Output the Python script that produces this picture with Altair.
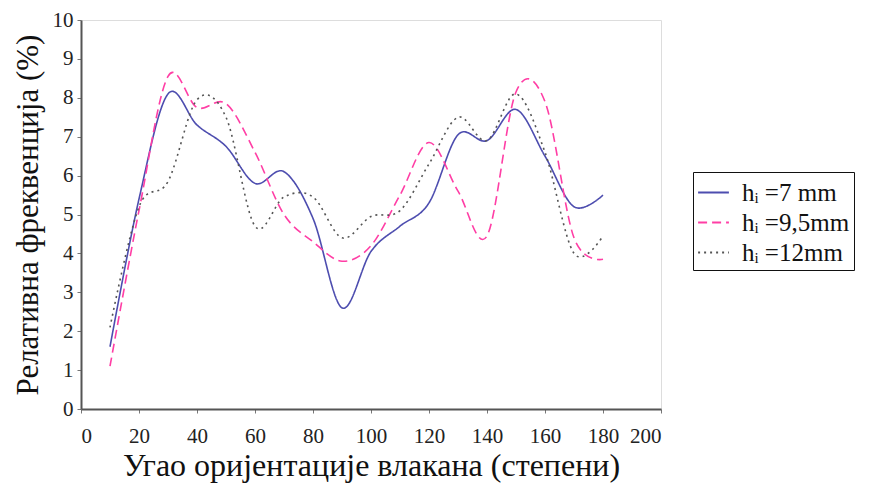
import altair as alt
import pandas as pd

angles = [10, 20, 30, 40, 50, 60, 70, 80, 90, 100, 110, 120, 130, 140, 150, 160, 170, 180]
h7 = [1.6, 5.4, 8.1, 7.3, 6.75, 5.8, 6.1, 4.9, 2.6, 4.05, 4.7, 5.3, 7.05, 6.9, 7.7, 6.5, 5.2, 5.5]
h95 = [1.1, 5.1, 8.55, 7.75, 7.85, 6.6, 5.0, 4.3, 3.8, 4.2, 5.5, 6.85, 5.6, 4.45, 8.15, 7.9, 4.4, 3.85]
h12 = [2.1, 5.2, 5.85, 7.95, 7.5, 4.7, 5.45, 5.45, 4.4, 4.95, 5.1, 6.3, 7.5, 6.9, 8.1, 6.6, 4.0, 4.45]
series_names = ["hᵢ =7 mm", "hᵢ =9,5mm", "hᵢ =12mm"]
series_colors = ["#4d4daf", "#ff3ea5", "#555555"]
series_dashes = [[1, 0], [9, 5], [2, 4]]

rows = []
for name, vals in zip(series_names, [h7, h95, h12]):
    for a, v in zip(angles, vals):
        rows.append({"angle": a, "value": v, "series": name})
df = pd.DataFrame(rows)

font = "Liberation Serif, Times New Roman, serif"

legend_cfg = dict(title=None, orient="none", legendX=612, legendY=152,
                  labelFont=font, labelFontSize=25, labelColor="#111",
                  strokeColor="#111", padding=4, rowPadding=-6,
                  symbolType="stroke", symbolSize=950, symbolStrokeWidth=2,
                  labelLimit=250, labelOffset=12)

lines = alt.Chart(df).mark_line(interpolate="cardinal", strokeWidth=1.6).encode(
    x=alt.X("angle:Q", scale=alt.Scale(domain=[0, 200], nice=False),
            axis=alt.Axis(values=list(range(0, 201, 20)), title="Угао оријентације влакана (степени)",
                          grid=False, labelFont=font, labelFontSize=21, labelColor="#222",
                          titleFont=font, titleFontSize=32, titleFontWeight="normal", titleColor="#111",
                          titlePadding=4, domainColor="#555", domainWidth=2, tickColor="#777",
                          tickSize=4, labelPadding=12)),
    y=alt.Y("value:Q", scale=alt.Scale(domain=[0, 10], nice=False),
            axis=alt.Axis(values=list(range(0, 11)), title="Релативна фреквенција (%)",
                          grid=False, labelFont=font, labelFontSize=21, labelColor="#222",
                          titleFont=font, titleFontSize=31, titleFontWeight="normal", titleColor="#111",
                          titlePadding=8, domainColor="#555", domainWidth=2, tickColor="#777",
                          tickSize=4, labelPadding=4)),
    color=alt.Color("series:N", scale=alt.Scale(domain=series_names, range=series_colors),
                    legend=alt.Legend(**legend_cfg)),
    strokeDash=alt.StrokeDash("series:N", scale=alt.Scale(domain=series_names, range=series_dashes),
                              legend=alt.Legend(**legend_cfg)),
)

chart = lines.properties(
    width=580, height=389,
    autosize="none",
    padding={"left": 73, "top": 12, "right": 200, "bottom": 82},
).configure_view(stroke="#aaa", strokeWidth=2).configure(background="white", font=font)

chart.save("out.html", embed_options={"renderer": "svg", "actions": False})
